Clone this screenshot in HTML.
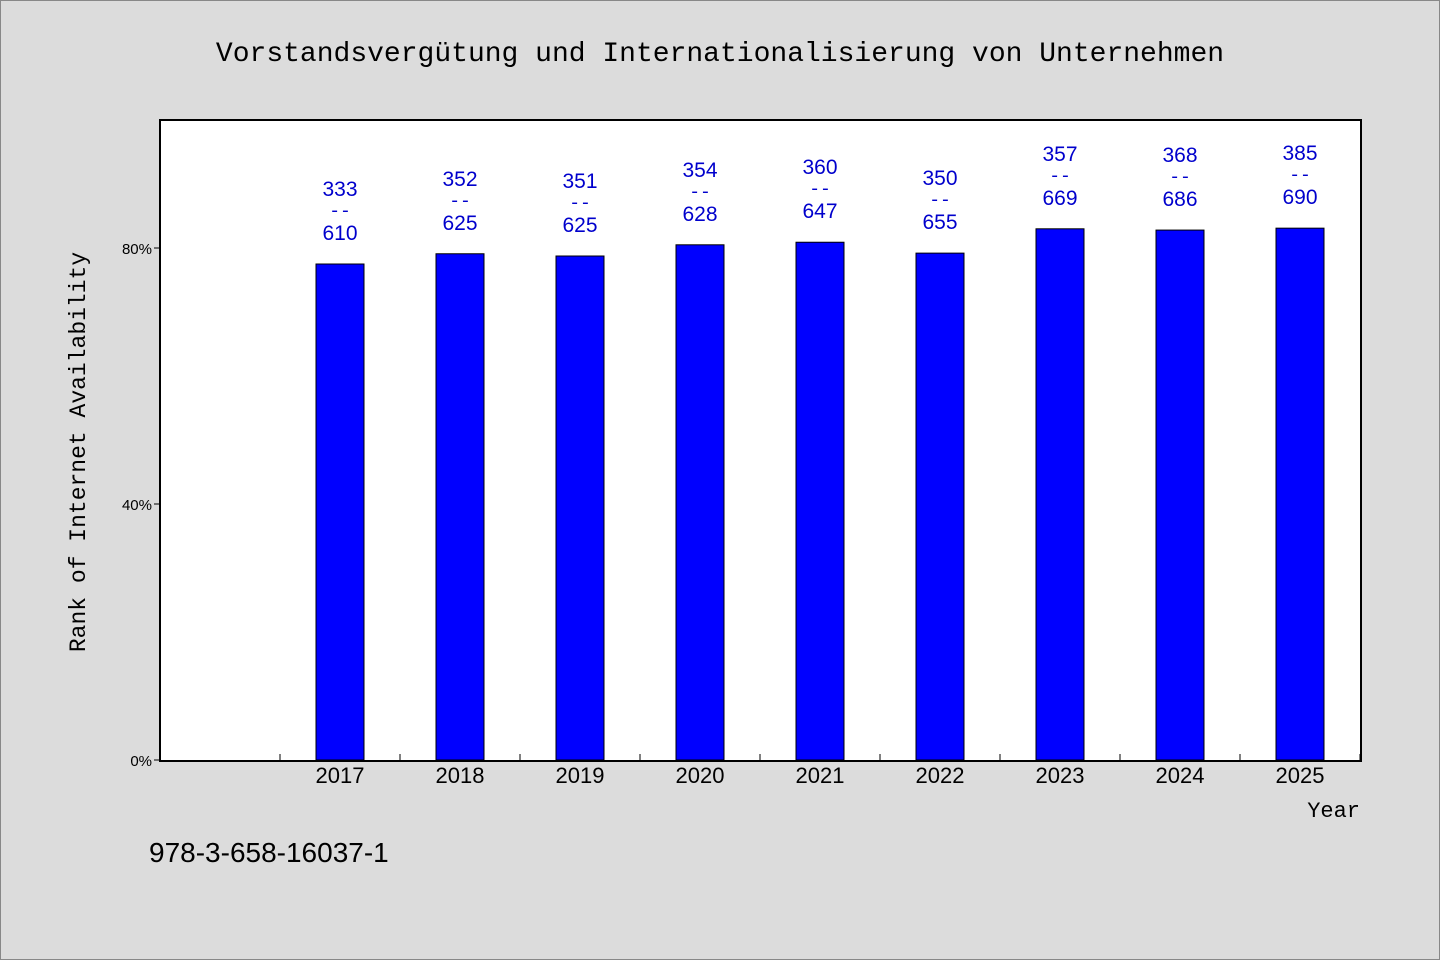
<!DOCTYPE html>
<html><head><meta charset="utf-8"><style>
html,body{margin:0;padding:0;background:#dcdcdc;}
svg{display:block;}
</style></head><body>
<svg width="1440" height="960" xmlns="http://www.w3.org/2000/svg">
<rect x="0.5" y="0.5" width="1439" height="959" fill="#dcdcdc" stroke="#888"/>
<text x="720" y="61" text-anchor="middle" font-family="Liberation Mono, monospace" font-size="28" fill="#000">Vorstandsvergütung und Internationalisierung von Unternehmen</text>
<rect x="160" y="120" width="1201" height="641" fill="#fff" stroke="#000" stroke-width="2"/>
<g id="marks"></g>
<text transform="translate(85,452) rotate(-90)" text-anchor="middle" font-family="Liberation Mono, monospace" font-size="23" fill="#000">Rank of Internet Availability</text>
<text x="1360" y="817" text-anchor="end" font-family="Liberation Mono, monospace" font-size="22" fill="#000">Year</text>
<text x="149" y="862" font-family="Liberation Sans, sans-serif" font-size="28" fill="#000">978-3-658-16037-1</text>
</svg>
<script>
const categories=["2017","2018","2019","2020","2021","2022","2023","2024","2025"];
const values=[77.5,79.1,78.75,80.5,80.9,79.2,83.0,82.8,83.1];
const numerators=["333","352","351","354","360","350","357","368","385"];
const denominators=["610","625","625","628","647","655","669","686","690"];
const yTicks=[0,40,80];
const yTickLabels=["0%","40%","80%"];
const NS="http://www.w3.org/2000/svg";
const g=document.getElementById('marks');
const x0=160,slot=120,y0=760,pxPerPct=6.4;
function xc(i){return x0+slot*(i+1)+slot/2;}
function y(v){return y0-v*pxPerPct;}
function mk(t,a){const e=document.createElementNS(NS,t);for(const k in a)e.setAttribute(k,a[k]);g.appendChild(e);return e;}
yTicks.forEach((v,i)=>{
  const l=mk('line',{x1:154,x2:160,y1:y(v),y2:y(v),stroke:'#000'});
  
  
  const t=mk('text',{x:152,y:y(v)+6,'text-anchor':'end','font-family':'Liberation Sans, sans-serif','font-size':'15',fill:'#000'});
  t.textContent=yTickLabels[i];
  
  
});
for(let i=0;i<=categories.length;i++){
  const xt=x0+slot*(i+1);
  const l=mk('line',{x1:xt,x2:xt,y1:754,y2:760,stroke:'#000'});
  
  
}
categories.forEach((c,i)=>{
  const cx=xc(i),top=y(values[i]);
  const b=mk('rect',{x:cx-24,y:top,width:48,height:y0-top,fill:'#0000ff',stroke:'#000','stroke-width':1});
  
  
  const t=mk('text',{x:cx,y:783,'text-anchor':'middle','font-family':'Liberation Sans, sans-serif','font-size':'22',fill:'#000'});
  t.textContent=c;
  
  
  const n=mk('text',{x:cx,y:top-68,'text-anchor':'middle','font-family':'Liberation Sans, sans-serif','font-size':'21',fill:'#0000cc'});
  n.textContent=numerators[i];
  
  
  const d=mk('text',{x:cx,y:top-48,'text-anchor':'middle','font-family':'Liberation Mono, monospace','font-size':'18',fill:'#0000cc'});
  d.textContent='--';
  
  
  const m=mk('text',{x:cx,y:top-24,'text-anchor':'middle','font-family':'Liberation Sans, sans-serif','font-size':'21',fill:'#0000cc'});
  m.textContent=denominators[i];
  
  
});
</script>
</body></html>
